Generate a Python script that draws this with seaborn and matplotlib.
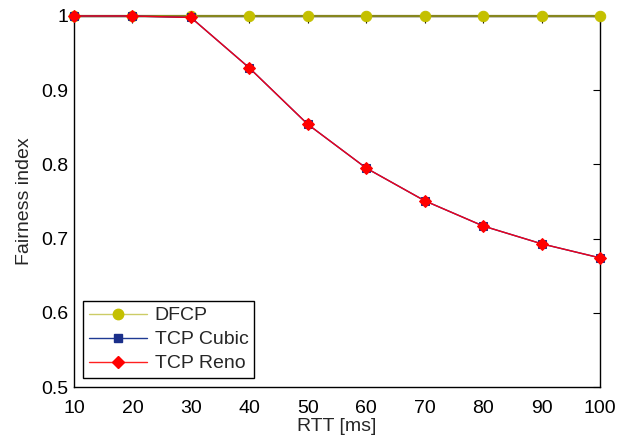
import matplotlib
matplotlib.use("Agg")
import matplotlib.pyplot as plt
import seaborn as sns
import pandas as pd
from matplotlib.lines import Line2D

rtt = [10, 20, 30, 40, 50, 60, 70, 80, 90, 100]
dfcp = [1.0, 1.0, 1.0, 1.0, 1.0, 1.0, 1.0, 1.0, 1.0, 1.0]
cubic = [1.0, 1.0, 0.998, 0.930, 0.854, 0.795, 0.751, 0.717, 0.693, 0.674]
reno = [1.0, 1.0, 0.998, 0.930, 0.854, 0.795, 0.751, 0.717, 0.693, 0.674]
series_names = ["DFCP", "TCP Cubic", "TCP Reno"]

sns.set_style("white")
plt.rcParams['font.family'] = ['Liberation Sans', 'DejaVu Sans']
plt.rcParams['font.size'] = 14

fig = plt.figure(figsize=(6.4, 4.38), dpi=100)
ax = fig.add_axes([0.1156, 0.1164, 0.822, 0.8471])

styles = [
    dict(color="#86861e", lw=1.6, marker="o", mfc="#c4c000", mec="#c4c000", ms=7.5),
    dict(color="#1f3a93", lw=1.0, marker="s", mfc="#1a2f8a", mec="#1a2f8a", ms=6),
    dict(color="#f0001a", lw=1.0, marker="D", mfc="#ff0000", mec="#ff0000", ms=6.5),
]
for name, vals, st in zip(series_names, [dfcp, cubic, reno], styles):
    df = pd.DataFrame({"RTT": rtt, "val": vals})
    sns.lineplot(data=df, x="RTT", y="val", ax=ax, color=st["color"], lw=st["lw"],
                 marker=st["marker"], markerfacecolor=st["mfc"],
                 markeredgecolor=st["mec"], markersize=st["ms"], clip_on=False,
                 zorder=3)

ax.set_xlim(10, 100)
ax.set_ylim(0.5, 1.0)
ax.set_xticks(rtt)
ax.set_yticks([0.5, 0.6, 0.7, 0.8, 0.9, 1.0])
ax.set_yticklabels(["0.5", "0.6", "0.7", "0.8", "0.9", "1"])
ax.set_xlabel("RTT [ms]", fontsize=14, labelpad=1)
ax.set_ylabel("Fairness index", fontsize=14, labelpad=6)
ax.tick_params(direction="in", length=5, width=0.8, top=True, right=True,
               labelsize=14, colors="black")
ax.tick_params(axis="x", pad=9)
ax.tick_params(axis="y", pad=4)
for s in ax.spines.values():
    s.set_visible(True)
    s.set_color("black")
    s.set_linewidth(1.0)

leg_line_colors = ["#cccc66", "#1f3a93", "#ff2020"]
handles = [Line2D([0], [0], color=c, lw=1.0, marker=st["marker"],
                  markerfacecolor=st["mfc"], markeredgecolor=st["mec"],
                  markersize=st["ms"]) for c, st in zip(leg_line_colors, styles)]
leg = ax.legend(handles, series_names, loc="lower left", bbox_to_anchor=(0.0, 0.0),
                fancybox=False, framealpha=1, edgecolor="black", fontsize=14,
                handlelength=3.0, borderpad=0.3, labelspacing=0.33,
                borderaxespad=0.45, handletextpad=0.4)
leg.get_frame().set_linewidth(1.0)

fig.savefig("out.png", dpi=100, facecolor="white")
